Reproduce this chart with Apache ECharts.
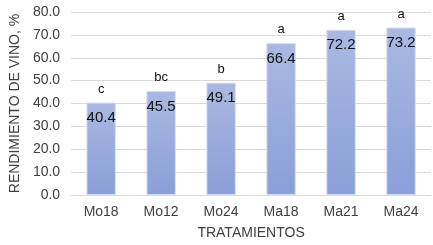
<!DOCTYPE html>
<html>
<head>
<meta charset="utf-8">
<script src="https://cdn.jsdelivr.net/npm/echarts@6/dist/echarts.min.js"></script>
<style>
  html, body { margin: 0; padding: 0; background: #fff; }
  #main { width: 433px; height: 245px; }
</style>
</head>
<body>
<div id="main"></div>
<script>
var categories = ['Mo18', 'Mo12', 'Mo24', 'Ma18', 'Ma21', 'Ma24'];
var values = [40.4, 45.5, 49.1, 66.4, 72.2, 73.2];
var letters = ['c', 'bc', 'b', 'a', 'a', 'a'];

var chart = echarts.init(document.getElementById('main'));

var barColor = new echarts.graphic.LinearGradient(0, 0, 0, 1, [
  { offset: 0, color: '#aab9e2' },
  { offset: 1, color: '#8a9fd8' }
]);

var option = {
  backgroundColor: '#ffffff',
  animation: false,
  textStyle: { fontFamily: 'Liberation Sans, Arial, sans-serif' },
  grid: { left: 62, right: 2, top: 12, bottom: 49 },
  xAxis: {
    type: 'category',
    data: categories,
    name: 'TRATAMIENTOS',
    nameLocation: 'middle',
    nameGap: 31,
    nameTextStyle: { fontSize: 14, color: '#404040' },
    axisLine: { show: true, lineStyle: { color: '#d9d9d9' } },
    axisTick: { show: false },
    axisLabel: { fontSize: 14, color: '#404040', margin: 10 }
  },
  yAxis: {
    type: 'value',
    min: 0,
    max: 80,
    interval: 10,
    name: 'RENDIMIENTO DE VINO, %',
    nameLocation: 'middle',
    nameGap: 49,
    nameTextStyle: { fontSize: 14, color: '#404040' },
    axisLine: { show: false },
    axisTick: { show: false },
    axisLabel: {
      fontSize: 14, color: '#404040', margin: 11,
      formatter: function (v) { return v.toFixed(1); }
    },
    splitLine: { lineStyle: { color: '#d9d9d9' } }
  },
  series: [
    {
      type: 'bar',
      data: values,
      barWidth: '49%',
      itemStyle: { color: barColor, borderColor: '#d5dcf0', borderWidth: 1 },
      label: {
        show: true,
        position: 'insideTop',
        distance: 8,
        fontSize: 15,
        color: '#111111',
        formatter: function (p) { return p.value.toFixed(1); }
      }
    },
    {
      type: 'bar',
      data: values,
      barWidth: '49%',
      barGap: '-100%',
      itemStyle: { color: 'rgba(0,0,0,0)' },
      label: {
        show: true,
        position: 'top',
        distance: 7,
        fontSize: 13,
        color: '#111111',
        formatter: function (p) { return letters[p.dataIndex]; }
      },
      silent: true
    }
  ]
};

chart.setOption(option);
</script>
</body>
</html>
